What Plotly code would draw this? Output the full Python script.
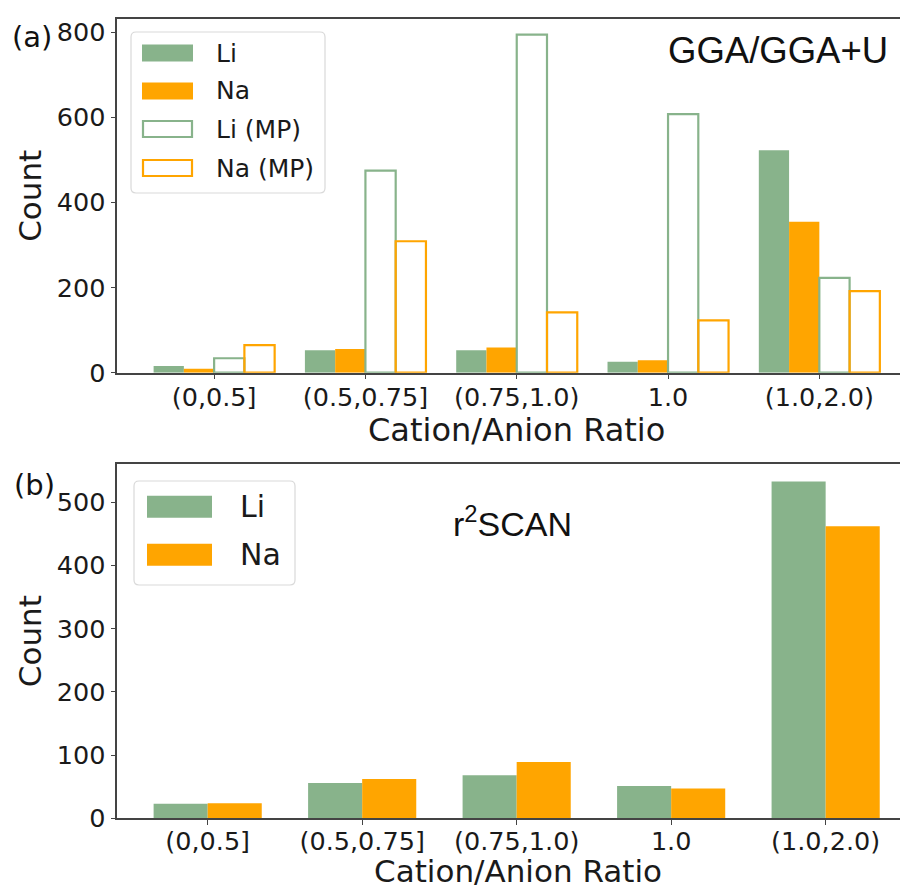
import plotly.graph_objects as go

# The page body has an 8px margin, so the figure is drawn 8px in from the
# top-left corner of the 908x889 window.
OFF = 8
W, H = 908 - OFF, 889 - OFF

# ---------------- data ----------------
categories = ["(0,0.5]", "(0.5,0.75]", "(0.75,1.0)", "1.0", "(1.0,2.0)"]

gga_li = [16, 53, 53, 26, 523]
gga_na = [9, 56, 59, 29, 355]
mp_li = [34, 475, 795, 608, 223]
mp_na = [65, 309, 142, 123, 192]

r2scan_li = [23, 56, 68, 51, 533]
r2scan_na = [24, 62, 89, 47, 462]

GREEN = "#88B38B"
ORANGE = "#FFA500"
FONT = "DejaVu Sans"
TXT = "#1a1a1a"


def px(x):
    """window pixel x -> paper coordinate"""
    return (x - OFF) / W


def py(y):
    """window pixel y -> paper coordinate"""
    return 1 - (y - OFF) / H


idx = list(range(len(categories)))

fig = go.Figure()

# ---- panel (a): 4 bars per group, width 0.2 ----
top_series = [
    ("Li", gga_li, -0.3, dict(color=GREEN, line=dict(width=0))),
    ("Na", gga_na, -0.1, dict(color=ORANGE, line=dict(width=0))),
    ("Li (MP)", mp_li, 0.1, dict(color="rgba(255,255,255,0)", line=dict(color=GREEN, width=2.2))),
    ("Na (MP)", mp_na, 0.3, dict(color="rgba(255,255,255,0)", line=dict(color=ORANGE, width=2.2))),
]
for name, vals, off, marker in top_series:
    fig.add_trace(go.Bar(
        x=[i + off for i in idx], y=vals, width=0.2, name=name,
        marker=marker, xaxis="x", yaxis="y", showlegend=False,
    ))

# ---- panel (b): 2 bars per group, width 0.35 ----
for name, vals, off, col in [("Li", r2scan_li, -0.175, GREEN), ("Na", r2scan_na, 0.175, ORANGE)]:
    fig.add_trace(go.Bar(
        x=[i + off for i in idx], y=vals, width=0.35, name=name,
        marker=dict(color=col, line=dict(width=0)),
        xaxis="x2", yaxis="y2", showlegend=False,
    ))

x_dom = [px(117.3), 1.0]
axis_common = dict(
    showline=True, linecolor="#444", linewidth=1.5,
    ticks="outside", ticklen=5, tickwidth=1.3, tickcolor="#444",
    showgrid=False, zeroline=False,
    tickfont=dict(family=FONT, size=25.5, color=TXT),
    automargin=False,
)
ytitle_font = dict(family=FONT, size=31, color=TXT)

fig.update_layout(
    width=W, height=H,
    margin=dict(l=0, r=0, t=0, b=0),
    paper_bgcolor="white", plot_bgcolor="white",
    barmode="overlay",
    font=dict(family=FONT, color=TXT),
    xaxis=dict(
        domain=x_dom, anchor="y", range=[-0.64, 4.586], mirror=True,
        tickmode="array", tickvals=idx, ticktext=categories,
        ticklabelstandoff=-4, **axis_common,
    ),
    yaxis=dict(
        domain=[py(372.7), py(19)], anchor="x", range=[0, 831.5], mirror=False,
        tickvals=[0, 200, 400, 600, 800],
        title=dict(text="Count", font=ytitle_font, standoff=6), **axis_common,
    ),
    xaxis2=dict(
        domain=x_dom, anchor="y2", range=[-0.585, 4.533], mirror=True,
        tickmode="array", tickvals=idx, ticktext=categories,
        ticklabelstandoff=-6, **axis_common,
    ),
    yaxis2=dict(
        domain=[py(818.3), py(464)], anchor="x2", range=[0, 560.6], mirror=False,
        tickvals=[0, 100, 200, 300, 400, 500],
        title=dict(text="Count", font=ytitle_font, standoff=6), **axis_common,
    ),
)

shapes = []
annotations = []


def rounded_box(x0, y0, x1, y1, r=5):
    rx, ry = r / W, r / H
    X0, X1 = px(x0), px(x1)
    Y0, Y1 = py(y1), py(y0)  # bottom, top in paper
    path = (f"M{X0+rx},{Y0} L{X1-rx},{Y0} Q{X1},{Y0} {X1},{Y0+ry} "
            f"L{X1},{Y1-ry} Q{X1},{Y1} {X1-rx},{Y1} L{X0+rx},{Y1} "
            f"Q{X0},{Y1} {X0},{Y1-ry} L{X0},{Y0+ry} Q{X0},{Y0} {X0+rx},{Y0} Z")
    return dict(type="path", xref="paper", yref="paper", path=path,
                fillcolor="rgba(255,255,255,0.85)", line=dict(color="#d9d9d9", width=1.2), layer="above")


# ---- legend (a) ----
shapes.append(rounded_box(131, 32, 325, 193))
leg_a = [("Li", GREEN, True, 53), ("Na", ORANGE, True, 91), ("Li (MP)", GREEN, False, 129), ("Na (MP)", ORANGE, False, 168)]
for label, col, filled, yc in leg_a:
    if filled:
        shapes.append(dict(type="rect", xref="paper", yref="paper",
                           x0=px(142), x1=px(193), y0=py(yc + 8.5), y1=py(yc - 8.5),
                           fillcolor=col, line=dict(width=0), layer="above"))
    else:
        shapes.append(dict(type="rect", xref="paper", yref="paper",
                           x0=px(143), x1=px(192), y0=py(yc + 8), y1=py(yc - 8),
                           fillcolor="white", line=dict(color=col, width=2.2), layer="above"))
    annotations.append(dict(xref="paper", yref="paper", x=px(214), y=py(yc), text=label,
                            showarrow=False, xanchor="left", yanchor="middle",
                            font=dict(family=FONT, size=25, color=TXT)))

# ---- legend (b) ----
shapes.append(rounded_box(134, 481, 295, 585))
for label, col, yc in [("Li", GREEN, 506.7), ("Na", ORANGE, 554.7)]:
    shapes.append(dict(type="rect", xref="paper", yref="paper",
                       x0=px(147), x1=px(212), y0=py(yc + 11), y1=py(yc - 11),
                       fillcolor=col, line=dict(width=0), layer="above"))
    annotations.append(dict(xref="paper", yref="paper", x=px(238), y=py(yc), text=label,
                            showarrow=False, xanchor="left", yanchor="middle",
                            font=dict(family=FONT, size=30, color=TXT)))

# ---- panel texts / x-axis titles ----
annotations += [
    dict(xref="paper", yref="paper", x=px(516), y=py(430), text="Cation/Anion Ratio", showarrow=False,
         xanchor="center", yanchor="middle", font=dict(family=FONT, size=32, color=TXT)),
    dict(xref="paper", yref="paper", x=px(518), y=py(870.5), text="Cation/Anion Ratio", showarrow=False,
         xanchor="center", yanchor="middle", font=dict(family=FONT, size=31, color=TXT)),
    dict(xref="paper", yref="paper", x=px(890), y=py(51), text="GGA/GGA+U", showarrow=False,
         xanchor="right", yanchor="middle", font=dict(family="Liberation Sans", size=36.5, color="#111")),
    dict(xref="paper", yref="paper", x=px(512), y=py(521), text="r<sup>2</sup>SCAN", showarrow=False,
         xanchor="center", yanchor="middle", font=dict(family="Liberation Sans", size=34, color="#111")),
    dict(xref="paper", yref="paper", x=px(32), y=py(37), text="(a)", showarrow=False,
         xanchor="center", yanchor="middle", font=dict(family=FONT, size=29, color="#111")),
    dict(xref="paper", yref="paper", x=px(34), y=py(485), text="(b)", showarrow=False,
         xanchor="center", yanchor="middle", font=dict(family=FONT, size=29, color="#111")),
]

fig.update_layout(shapes=shapes, annotations=annotations)

fig.write_html("out.html")
